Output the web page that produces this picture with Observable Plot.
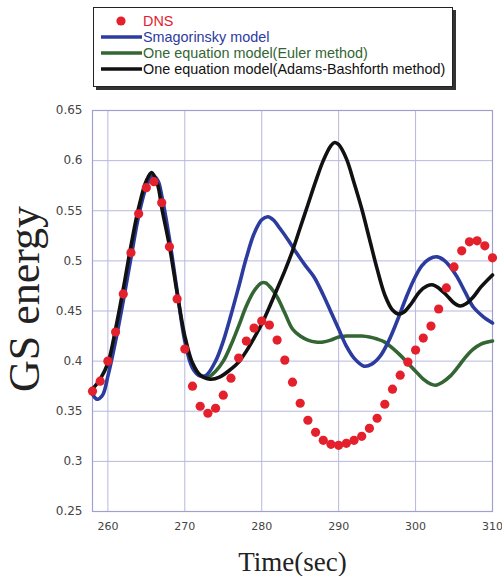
<!DOCTYPE html>
<html>
<head>
<meta charset="utf-8">
<script src="https://cdn.jsdelivr.net/npm/d3@7"></script>
<script src="https://cdn.jsdelivr.net/npm/@observablehq/plot@0.6"></script>
<style>
  body { margin: 0; background: white; }
  #wrap { width: 502px; height: 576px; position: relative; }
  #legendArea { height: 90px; position: relative; }
  #legend {
    position: absolute; left: 93px; top: 7px; width: 358px; height: 73px;
    border: 1px solid #222; background: white; box-shadow: 3px 3px 0 #333;
    font-family: "Liberation Sans", sans-serif; font-size: 14.4px;
    padding-top: 5px; box-sizing: content-box;
  }
  .row { display: flex; align-items: center; height: 16px; padding-left: 7px; }
  .row svg { flex: none; }
  .row span { margin-left: 1px; white-space: nowrap; }
</style>
</head>
<body>
<div id="wrap">
  <div id="legendArea"><div id="legend"></div></div>
  <div id="chart"></div>
</div>
<script>
// ---- data ----
const xTicks = [260, 270, 280, 290, 300, 310];
const yTicks = [0.25, 0.3, 0.35, 0.4, 0.45, 0.5, 0.55, 0.6, 0.65];
const yTickLabels = ["0.25", "0.3", "0.35", "0.4", "0.45", "0.5", "0.55", "0.6", "0.65"];

const seriesNames = ["DNS", "Smagorinsky model", "One equation model(Euler method)", "One equation model(Adams-Bashforth method)"];
const seriesColors = ["#e3202c", "#2b3b9e", "#336633", "#111111"];

const dnsTime = [258,259,260,261,262,263,264,265,266,267,268,269,270,271,272,273,274,275,276,277,278,279,280,281,282,283,284,285,286,287,288,289,290,291,292,293,294,295,296,297,298,299,300,301,302,303,304,305,306,307,308,309,310];
const dnsValue = [0.370,0.380,0.400,0.429,0.467,0.508,0.547,0.573,0.579,0.558,0.514,0.462,0.412,0.375,0.355,0.348,0.353,0.366,0.383,0.403,0.420,0.433,0.440,0.436,0.421,0.401,0.379,0.358,0.341,0.329,0.321,0.317,0.316,0.318,0.321,0.325,0.333,0.343,0.357,0.372,0.386,0.399,0.411,0.423,0.435,0.452,0.473,0.494,0.510,0.519,0.520,0.515,0.503];

const smagTime = [258,258.6,259.3,260,261,262,263,264,265,265.8,266.5,267,268,269,270,271,272,272.8,274,275,276,277,278,279,280,280.8,281.5,282.4,283.5,284.6,285.7,286.8,288,289,290,291,292,293.3,294.3,295.4,296.5,297.6,298.7,299.7,300.8,301.8,302.8,303.8,304.6,305.4,306.5,307.5,308.7,310];
const smagValue = [0.367,0.362,0.366,0.385,0.42,0.46,0.503,0.545,0.574,0.585,0.58,0.565,0.522,0.47,0.42,0.393,0.385,0.386,0.4,0.42,0.446,0.474,0.503,0.527,0.541,0.544,0.541,0.532,0.52,0.507,0.495,0.484,0.466,0.449,0.432,0.415,0.403,0.395,0.397,0.405,0.42,0.44,0.462,0.48,0.495,0.502,0.504,0.5,0.493,0.484,0.468,0.454,0.445,0.438];

const eulerTime = [271,272,273,274,275,276,277,278,279,280,280.5,281.2,282,283,284,285,286,287,288,289,290,291,292,293,294,295,296,297,298,299,300,301,302,302.6,303.5,304.5,305.5,306.5,307.5,308.5,310];
const eulerValue = [0.398,0.386,0.384,0.39,0.4,0.416,0.435,0.455,0.47,0.478,0.478,0.473,0.464,0.448,0.432,0.425,0.421,0.419,0.419,0.421,0.424,0.425,0.425,0.425,0.424,0.422,0.419,0.413,0.406,0.398,0.39,0.382,0.377,0.376,0.379,0.385,0.394,0.404,0.412,0.417,0.42];

const abTime = [258,259,260,261,262,263,264,265,265.7,266.5,267,268,269,270,271,272,273.3,274.5,276,277,278,279,280,281,282,283,284,285,286,287,288,289,289.5,290,291,292,293,294,295,296,297,297.8,298.5,299.5,300.5,301.5,302.3,303,304,305,305.8,306.5,307.5,308.5,310];
const abValue = [0.372,0.382,0.398,0.432,0.472,0.515,0.553,0.580,0.588,0.575,0.553,0.515,0.468,0.425,0.398,0.386,0.382,0.384,0.392,0.399,0.41,0.423,0.437,0.454,0.472,0.49,0.51,0.533,0.556,0.579,0.6,0.615,0.618,0.616,0.602,0.578,0.552,0.522,0.492,0.466,0.451,0.447,0.449,0.458,0.469,0.475,0.476,0.473,0.466,0.458,0.455,0.457,0.464,0.474,0.486];

const xLabel = "Time(sec)";
const yLabel = "GS energy";

// ---- build ----
const toRows = (ts, vs) => ts.map((t, i) => ({t, v: vs[i]}));
const dns = toRows(dnsTime, dnsValue);
const smag = toRows(smagTime, smagValue);
const euler = toRows(eulerTime, eulerValue);
const ab = toRows(abTime, abValue);

const gridColor = "#b7b7e0";
const frameColor = "#a0a0d0";
const lw = 3.6;

const chart = Plot.plot({
  width: 502,
  height: 486,
  marginLeft: 92,
  marginRight: 10,
  marginTop: 20,
  marginBottom: 65,
  style: {fontFamily: "DejaVu Sans, sans-serif", background: "white", overflow: "visible"},
  x: {domain: [258, 310]},
  y: {domain: [0.25, 0.65]},
  marks: [
    Plot.gridX(xTicks, {stroke: gridColor, strokeOpacity: 1, strokeWidth: 1}),
    Plot.gridY(yTicks, {stroke: gridColor, strokeOpacity: 1, strokeWidth: 1}),
    Plot.frame({stroke: frameColor, strokeWidth: 1.2}),
    Plot.axisX(xTicks, {tickSize: 0, tickPadding: 11, fontSize: 11, fill: "#444", label: null, tickFormat: d => String(d)}),
    Plot.axisY(yTicks, {tickSize: 0, tickPadding: 10, fontSize: 12, fill: "#444", label: null, tickFormat: d => yTickLabels[yTicks.indexOf(d)]}),
    Plot.line(euler, {x: "t", y: "v", stroke: seriesColors[2], strokeWidth: lw, curve: "catmull-rom"}),
    Plot.line(smag, {x: "t", y: "v", stroke: seriesColors[1], strokeWidth: lw, curve: "catmull-rom"}),
    Plot.line(ab, {x: "t", y: "v", stroke: seriesColors[3], strokeWidth: lw, curve: "catmull-rom"}),
    Plot.dot(dns, {x: "t", y: "v", r: 4.6, fill: seriesColors[0], stroke: "none"}),
    Plot.text([yLabel], {frameAnchor: "left", textAnchor: "middle", rotate: -90, dx: -54, dy: -12, lineAnchor: "bottom", fontSize: 44, fontFamily: "Liberation Serif, serif", fill: "#222"}),
    Plot.text([xLabel], {frameAnchor: "bottom", textAnchor: "middle", dy: 59, lineAnchor: "bottom", fontSize: 27, fontFamily: "Liberation Serif, serif", fill: "#222"})
  ]
});
document.getElementById("chart").appendChild(chart);

// ---- legend ----
const legend = d3.select("#legend");
seriesNames.forEach((name, i) => {
  const row = legend.append("div").attr("class", "row");
  const svg = row.append("svg").attr("width", 41).attr("height", 16);
  if (i === 0) {
    svg.append("circle").attr("cx", 20).attr("cy", 8).attr("r", 4.6).attr("fill", seriesColors[i]);
  } else {
    svg.append("line").attr("x1", 0).attr("x2", 41).attr("y1", 8).attr("y2", 8)
      .attr("stroke", seriesColors[i]).attr("stroke-width", 3.4);
  }
  row.append("span").text(name).style("color", i === 3 ? "#111" : seriesColors[i]);
});
</script>
</body>
</html>
